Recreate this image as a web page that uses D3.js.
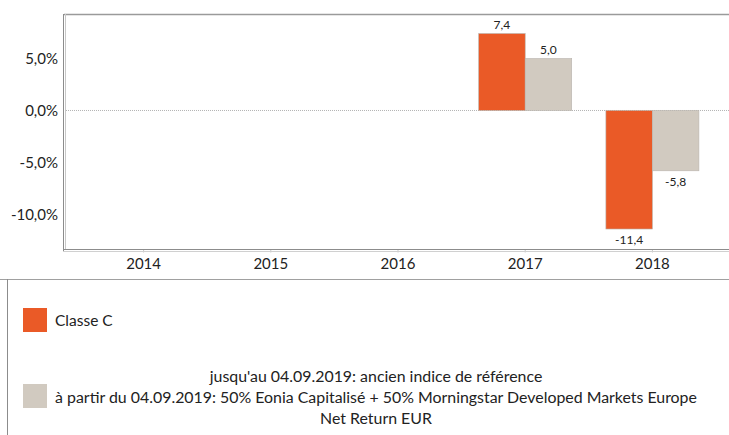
<!DOCTYPE html>
<html>
<head>
<meta charset="utf-8">
<script src="https://cdn.jsdelivr.net/npm/d3@7"></script>
<style>
  html, body { margin: 0; padding: 0; background: #fff; }
  svg { display: block; font-family: Lato, "Open Sans", sans-serif; }
</style>
</head>
<body>
<svg id="chart" width="729" height="435"></svg>
<script>
// Annual performance, in percent
const years = ["2014", "2015", "2016", "2017", "2018"];
const classeC = [null, null, null, 7.4, -11.4];
const benchmark = [null, null, null, 5.0, -5.8];
const yTicks = [5, 0, -5, -10];
const seriesNames = ["Classe C", "benchmark"];
const seriesColors = ["#EA5A27", "#D1CAC0"];
const benchmarkLines = [
  "jusqu'au 04.09.2019: ancien indice de référence",
  "à partir du 04.09.2019: 50% Eonia Capitalisé + 50% Morningstar Developed Markets Europe",
  "Net Return EUR"
];

const svg = d3.select("#chart");
const plot = { left: 64, top: 14, right: 729, bottom: 249.5 };

const x = d3.scaleBand().domain(years).range([80, 716]).padding(0);
const inner = d3.scaleBand().domain(seriesNames).range([0, 93]).padding(0);
const y = d3.scaleLinear().domain([-13.37, 9.28]).range([plot.bottom, plot.top]);

// French decimal comma with a plain hyphen for negatives
const locale = d3.formatLocale({ decimal: ",", thousands: " ", grouping: [3], currency: ["", " €"], minus: "-" });
const fmt = locale.format(".1f");

// Frame: top rule, double left rule, bottom axis
svg.append("line").attr("x1", plot.left).attr("x2", plot.right)
  .attr("y1", plot.top + 0.5).attr("y2", plot.top + 0.5)
  .attr("stroke", "#9a9a9a").attr("stroke-width", 1.5);
svg.append("line").attr("x1", plot.left - 0.5).attr("x2", plot.left - 0.5)
  .attr("y1", plot.top).attr("y2", plot.bottom + 2)
  .attr("stroke", "#8c8c8c").attr("stroke-width", 1);
svg.append("line").attr("x1", plot.left + 1.5).attr("x2", plot.left + 1.5)
  .attr("y1", plot.top).attr("y2", plot.bottom)
  .attr("stroke", "#c8c8c8").attr("stroke-width", 1);

// Zero line
svg.append("line").attr("x1", plot.left + 2).attr("x2", plot.right)
  .attr("y1", y(0)).attr("y2", y(0))
  .attr("stroke", "#b5b5b5").attr("stroke-width", 1).attr("stroke-dasharray", "1,1");

// Y axis labels
const yAxis = d3.axisLeft(y).tickValues(yTicks).tickSize(0).tickPadding(6)
  .tickFormat(v => fmt(v) + "%");
svg.append("g").attr("transform", `translate(${plot.left},0)`).call(yAxis)
  .call(g => g.select(".domain").remove())
  .call(g => g.selectAll("text").attr("font-size", 15).attr("fill", "#222")
    .attr("font-family", "Lato, sans-serif"));

// X axis
const xAxis = d3.axisBottom(x).tickSize(3).tickPadding(6);
svg.append("g").attr("transform", `translate(0,${plot.bottom})`).call(xAxis)
  .call(g => g.select(".domain").remove())
  .call(g => g.selectAll(".tick line").attr("stroke", "#c8c8c8"))
  .call(g => g.selectAll("text").attr("font-size", 15).attr("fill", "#222")
    .attr("font-family", "Lato, sans-serif"));
svg.append("line").attr("x1", plot.left - 1).attr("x2", plot.right)
  .attr("y1", plot.bottom).attr("y2", plot.bottom)
  .attr("stroke", "#8c8c8c").attr("stroke-width", 1);
svg.append("line").attr("x1", plot.left - 1).attr("x2", plot.right)
  .attr("y1", plot.bottom + 2).attr("y2", plot.bottom + 2)
  .attr("stroke", "#d0d0d0").attr("stroke-width", 1);

// Bars
const rows = years.map((yr, i) => ({ yr, vals: [classeC[i], benchmark[i]] }));
const groups = svg.append("g").selectAll("g").data(rows).join("g")
  .attr("transform", d => `translate(${x(d.yr) + x.bandwidth() / 2 - inner.bandwidth()},0)`);
const bars = groups.selectAll("g").data(d => d.vals.map((v, j) => ({ v, s: seriesNames[j], j })).filter(b => b.v !== null))
  .join("g");
bars.append("rect")
  .attr("x", d => inner(d.s))
  .attr("width", inner.bandwidth())
  .attr("y", d => y(Math.max(0, d.v)))
  .attr("height", d => Math.abs(y(d.v) - y(0)))
  .attr("fill", d => seriesColors[d.j])
  .attr("stroke", "#b8b3ad").attr("stroke-width", 0.6);
bars.append("text")
  .attr("x", d => inner(d.s) + inner.bandwidth() / 2)
  .attr("y", d => d.v >= 0 ? y(d.v) - 5 : y(d.v) + 15)
  .attr("text-anchor", "middle")
  .attr("font-size", 12).attr("fill", "#222")
  .text(d => fmt(d.v));

// Legend box
svg.append("line").attr("x1", 0).attr("x2", 729).attr("y1", 279.5).attr("y2", 279.5)
  .attr("stroke", "#a0a0a0").attr("stroke-width", 1.2);
svg.append("line").attr("x1", 7.5).attr("x2", 7.5).attr("y1", 279).attr("y2", 435)
  .attr("stroke", "#8c8c8c").attr("stroke-width", 1);

const legend = svg.append("g");
legend.append("rect").attr("x", 23).attr("y", 308).attr("width", 24).attr("height", 24)
  .attr("fill", seriesColors[0]);
legend.append("text").attr("x", 55).attr("y", 326).attr("font-size", 15.5).attr("fill", "#222")
  .text(seriesNames[0]);
legend.append("rect").attr("x", 23).attr("y", 384).attr("width", 24).attr("height", 24)
  .attr("fill", seriesColors[1]);
legend.append("g").selectAll("text").data(benchmarkLines).join("text")
  .attr("x", 376).attr("y", (d, i) => 381.5 + i * 21)
  .attr("text-anchor", "middle").attr("font-size", 15.9).attr("fill", "#222")
  .text(d => d);
</script>
</body>
</html>
